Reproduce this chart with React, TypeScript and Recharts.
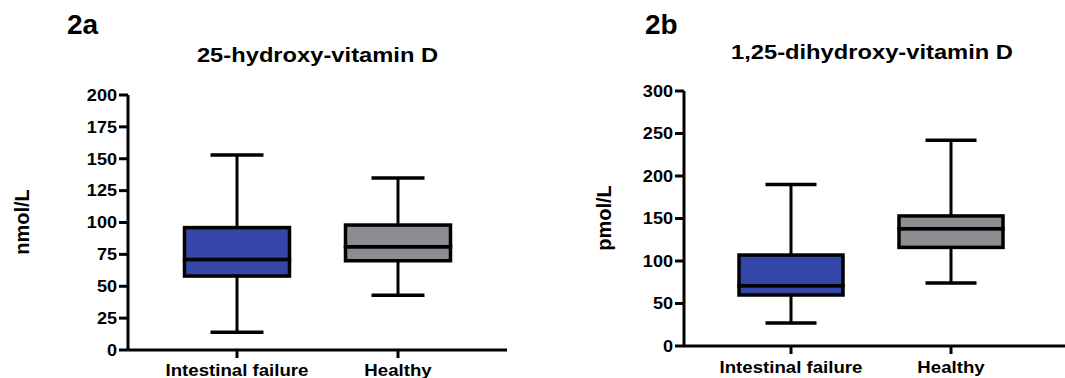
import { ComposedChart, Bar, XAxis, YAxis } from 'recharts';

const categories = ['Intestinal failure', 'Healthy'];
const boxColors = ['#3447a8', '#8c8c91'];

// 2a: 25-hydroxy-vitamin D (nmol/L)
const hydroxyMin = [14, 43];
const hydroxyQ1 = [58, 70];
const hydroxyMedian = [71, 81];
const hydroxyQ3 = [96, 98];
const hydroxyMax = [153, 135];
const hydroxyTicks = [0, 25, 50, 75, 100, 125, 150, 175, 200];

// 2b: 1,25-dihydroxy-vitamin D (pmol/L)
const dihydroxyMin = [27, 74];
const dihydroxyQ1 = [60, 116];
const dihydroxyMedian = [71, 138];
const dihydroxyQ3 = [107, 153];
const dihydroxyMax = [190, 242];
const dihydroxyTicks = [0, 50, 100, 150, 200, 250, 300];

const FONT = '"Liberation Sans", Arial, sans-serif';
const STRETCH = 1.13;

// stacked segments: invisible base up to min, then whisker, two box halves, whisker
const buildData = (min: number[], q1: number[], med: number[], q3: number[], max: number[]) =>
  categories.map((name, i) => ({
    name,
    color: boxColors[i],
    base: min[i],
    lowWhisker: q1[i] - min[i],
    lowBox: med[i] - q1[i],
    highBox: q3[i] - med[i],
    highWhisker: max[i] - q3[i],
  }));

const hydroxyData = buildData(hydroxyMin, hydroxyQ1, hydroxyMedian, hydroxyQ3, hydroxyMax);
const dihydroxyData = buildData(dihydroxyMin, dihydroxyQ1, dihydroxyMedian, dihydroxyQ3, dihydroxyMax);

const whisker = (capAtTop: boolean, capWidth: number) => (props: any) => {
  const { x, y, width, height } = props;
  const top = Math.min(y, y + height);
  const bottom = Math.max(y, y + height);
  const cx = x + width / 2;
  const capY = capAtTop ? top : bottom;
  return (
    <g>
      <line x1={cx} x2={cx} y1={top} y2={bottom} stroke="#000" strokeWidth={3} />
      <line x1={cx - capWidth / 2} x2={cx + capWidth / 2} y1={capY} y2={capY} stroke="#000" strokeWidth={3.5} />
    </g>
  );
};

const BoxShape = (props: any) => {
  const { x, y, width, height, payload } = props;
  return (
    <rect
      x={x}
      y={Math.min(y, y + height)}
      width={width}
      height={Math.abs(height)}
      fill={payload.color}
      stroke="#000"
      strokeWidth={3.5}
    />
  );
};

const ValueTick = ({ x, y, payload }: any) => (
  <g transform={`translate(${x},${y}) scale(${STRETCH},1)`}>
    <text textAnchor="end" dy="0.36em" fontSize={16} fontWeight={700} fontFamily={FONT} fill="#000">
      {payload.value}
    </text>
  </g>
);

const categoryTick = (dy: number) => ({ x, y, payload }: any) => (
  <g transform={`translate(${x},${y}) scale(${STRETCH},1)`}>
    <text textAnchor="middle" dy={dy} fontSize={16.5} fontWeight={700} fontFamily={FONT} fill="#000">
      {payload.value}
    </text>
  </g>
);

type PanelProps = {
  data: any[];
  left: number;
  width: number;
  top: number;
  right: number;
  yWidth: number;
  xHeight: number;
  domain: [number, number];
  ticks: number[];
  padding: { left: number; right: number };
  barSize: number;
  capWidth: number;
  labelDy: number;
};

function BoxPanel(p: PanelProps) {
  const axisStyle = { stroke: '#000', strokeWidth: 3 };
  return (
    <div style={{ position: 'absolute', left: p.left, top: 0 }}>
      <ComposedChart width={p.width} height={378} data={p.data} margin={{ top: p.top, right: p.right, bottom: 0, left: 0 }}>
        <XAxis
          dataKey="name"
          height={p.xHeight}
          padding={p.padding}
          axisLine={axisStyle}
          tickLine={axisStyle}
          tickSize={8}
          tickMargin={2}
          interval={0}
          tick={categoryTick(p.labelDy)}
        />
        <YAxis
          width={p.yWidth}
          domain={p.domain}
          ticks={p.ticks}
          interval={0}
          allowDataOverflow
          axisLine={axisStyle}
          tickLine={axisStyle}
          tickSize={9}
          tickMargin={2}
          tick={<ValueTick />}
        />
        <Bar dataKey="base" stackId="box" barSize={p.barSize} fill="none" isAnimationActive={false} />
        <Bar dataKey="lowWhisker" stackId="box" barSize={p.barSize} shape={whisker(false, p.capWidth)} isAnimationActive={false} />
        <Bar dataKey="lowBox" stackId="box" barSize={p.barSize} shape={BoxShape} isAnimationActive={false} />
        <Bar dataKey="highBox" stackId="box" barSize={p.barSize} shape={BoxShape} isAnimationActive={false} />
        <Bar dataKey="highWhisker" stackId="box" barSize={p.barSize} shape={whisker(true, p.capWidth)} isAnimationActive={false} />
      </ComposedChart>
    </div>
  );
}

export default function App() {
  return (
    <div style={{ position: 'absolute', left: 0, top: 0, width: 1065, height: 378, background: '#fff', overflow: 'hidden' }}>
      <BoxPanel
        data={hydroxyData}
        left={0}
        width={530}
        top={95}
        right={23}
        yWidth={128}
        xHeight={28}
        domain={[0, 200]}
        ticks={hydroxyTicks}
        padding={{ left: 28.5, right: 28.5 }}
        barSize={105}
        capWidth={53}
        labelDy={16.5}
      />
      <BoxPanel
        data={dihydroxyData}
        left={530}
        width={535}
        top={91}
        right={0}
        yWidth={154}
        xHeight={32}
        domain={[0, 300]}
        ticks={dihydroxyTicks}
        padding={{ left: 27, right: 34 }}
        barSize={104}
        capWidth={51}
        labelDy={17}
      />
      <svg width={1065} height={378} style={{ position: 'absolute', left: 0, top: 0, pointerEvents: 'none' }}>
        <g fontFamily={FONT} fontWeight={700} fill="#000">
          <text x={67} y={34} fontSize={28}>2a</text>
          <text x={645} y={34} fontSize={28}>2b</text>
          <g transform={`translate(317.5,62) scale(${STRETCH},1)`}>
            <text textAnchor="middle" fontSize={21}>25-hydroxy-vitamin D</text>
          </g>
          <g transform={`translate(872,59) scale(${STRETCH},1)`}>
            <text textAnchor="middle" fontSize={21}>1,25-dihydroxy-vitamin D</text>
          </g>
          <g transform="translate(28.5,222) rotate(-90)">
            <text textAnchor="middle" fontSize={20}>nmol/L</text>
          </g>
          <g transform="translate(611,218) rotate(-90)">
            <text textAnchor="middle" fontSize={20}>pmol/L</text>
          </g>
        </g>
      </svg>
    </div>
  );
}
